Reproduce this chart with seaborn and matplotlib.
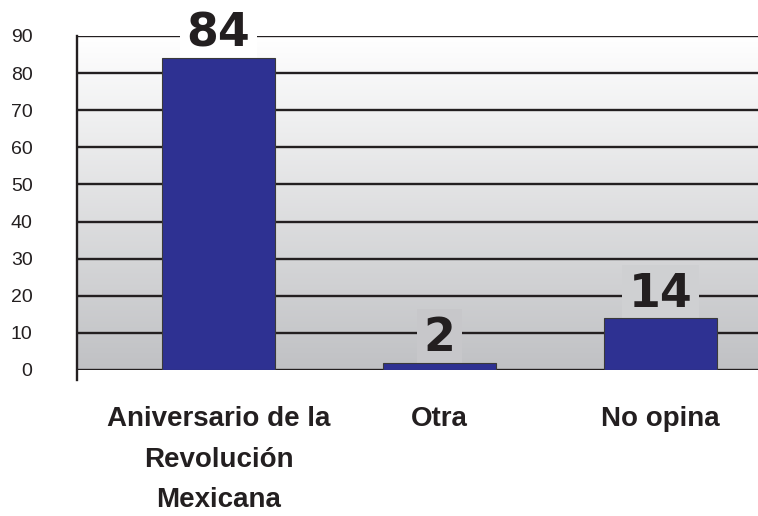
import numpy as np
import pandas as pd
import matplotlib.pyplot as plt
import seaborn as sns

# datos
categorias = ['Aniversario de la\nRevolución\nMexicana', 'Otra', 'No opina']
valores = [84, 2, 14]
y_ticks = list(range(0, 100, 10))

df = pd.DataFrame({'categoria': categorias, 'valor': valores})

sns.set_style('white')
plt.rcParams['font.family'] = ['Liberation Sans', 'DejaVu Sans']

fig = plt.figure(figsize=(7.58, 5.16), dpi=100)
ax = fig.add_axes([77 / 758, 1 - 370 / 516, 1 - 77 / 758, (370 - 36) / 516])

# fondo degradado (blanco arriba, gris abajo)
arriba = np.array([1.0, 1.0, 1.0])
abajo = np.array([192, 193, 196]) / 255
t = np.linspace(0, 1, 256)[:, None]
img = (arriba + (abajo - arriba) * t)[:, None, :]
ax.imshow(img, extent=[0, 1, 0, 1], transform=ax.transAxes, aspect='auto', zorder=0)


def color_fondo(v):
    f = min(max(1 - v / 90, 0), 1)
    return tuple(arriba + (abajo - arriba) * f)


sns.barplot(data=df, x='categoria', y='valor', color='#2E3192', saturation=1,
            width=0.51, edgecolor='#3a3a3a', linewidth=0.8, ax=ax, zorder=3)

ax.set_xlim(-0.64, 2.44)
ax.set_ylim(0, 90)
ax.set_yticks(y_ticks)
ax.set_xticks(range(len(categorias)), labels=categorias, fontweight='bold',
              linespacing=1.72, fontsize=20)
ax.grid(axis='y', color='#231F20', lw=1.7)
ax.grid(axis='x', visible=False)
ax.set_axisbelow(True)

for s in ['top', 'right', 'bottom']:
    ax.spines[s].set_visible(False)
ax.spines['left'].set_color('#231F20')
ax.spines['left'].set_linewidth(1.7)
ax.spines['left'].set_bounds(-2.8, 90)

ax.tick_params(axis='y', length=8, width=1.7, color='#231F20', pad=24,
               labelsize=14, labelcolor='#231F20')
ax.tick_params(axis='x', length=0, pad=26, labelcolor='#231F20')

ax.set_xlabel('')
ax.set_ylabel('')

# etiquetas de valor
for i, v in enumerate(valores):
    ax.annotate(str(v), (i, v), xytext=(0, 8.3), textcoords='offset points',
                ha='center', va='baseline', fontsize=33, fontweight='bold',
                family='DejaVu Sans', color='#231F20', zorder=2.5,
                annotation_clip=False,
                bbox=dict(boxstyle='square,pad=0.15', fc=color_fondo(v + 7.4), ec='none'))

fig.savefig('out.png', dpi=100)
